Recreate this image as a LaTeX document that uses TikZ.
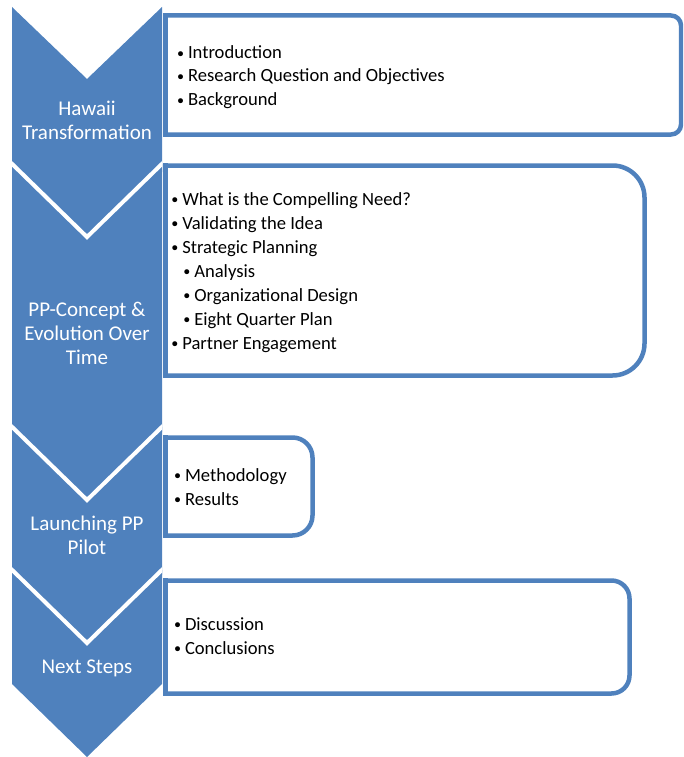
\documentclass[tikz,border=0pt]{standalone}
\usepackage{fontspec}
\setmainfont{Carlito}
\newfontfamily\bulfont{DejaVu Sans}
\definecolor{acc}{HTML}{4F81BD}
\begin{document}
\begin{tikzpicture}[x=1pt,y=-1pt,
  chev/.style={fill=acc},
  notch/.style={draw=white,line width=4pt},
  box/.style={draw=acc,line width=4.5pt},
  boxside/.style={draw=acc,line width=4.5pt,line cap=rect},
  lbl/.style={text=white,anchor=base,inner sep=0,font=\fontsize{21}{24}\selectfont},
  itm/.style={anchor=base west,inner sep=0,font=\fontsize{18.6}{24}\selectfont}]
\useasboundingbox (0,0) rectangle (683,757);
\clip (0,0) rectangle (683,757);
% boxes
\draw[box,rounded corners=10pt] (165.5,15.5) -- (681,15.5) -- (681,134.5) -- (165.5,134.5);
\draw[boxside] (165.5,15.5) -- (165.5,134.5);
\draw[box,rounded corners=32pt] (165.5,165.5) -- (644.5,165.5) -- (644.5,375.5) -- (165.5,375.5);
\draw[boxside] (165.5,165.5) -- (165.5,375.5);
\draw[box,rounded corners=20pt] (165.5,437.5) -- (312.5,437.5) -- (312.5,535.5) -- (165.5,535.5);
\draw[boxside] (165.5,437.5) -- (165.5,535.5);
\draw[box,rounded corners=18pt] (165.5,580.5) -- (629.5,580.5) -- (629.5,693.5) -- (165.5,693.5);
\draw[boxside] (165.5,580.5) -- (165.5,693.5);
% chevrons
\fill[chev] (12,7) -- (87,79) -- (162,7) -- (162,172) -- (87,245) -- (12,172) -- cycle;
\fill[chev] (12,164) -- (87,237) -- (162,164) -- (162,432) -- (87,505) -- (12,432) -- cycle;
\fill[chev] (12,427) -- (87,500) -- (162,427) -- (162,575) -- (87,648) -- (12,575) -- cycle;
\fill[chev] (12,570) -- (87,643) -- (162,570) -- (162,684) -- (87,757) -- (12,684) -- cycle;
\begin{scope}
\clip (12,0) rectangle (162,757);
\draw[notch] (5,157) -- (87,237) -- (169,157);
\draw[notch] (5,420) -- (87,500) -- (169,420);
\draw[notch] (5,563) -- (87,643) -- (169,563);
\end{scope}
% chevron labels
\node[lbl] (h1) at (87,116) {Hawaii};
\node[lbl] (h2) at (87,139.5) {Transformation};
\node[lbl] (p1) at (87,316.5) {PP-Concept \&};
\node[lbl] (p2) at (87,340.5) {Evolution Over};
\node[lbl] (p3) at (87,364.5) {Time};
\node[lbl] (l1) at (87,530.5) {Launching PP};
\node[lbl] (l2) at (87,554.5) {Pilot};
\node[lbl] (n1) at (87,673) {Next Steps};
% items
\newcommand{\bu}{\makebox[12.5pt][l]{\raisebox{-1.6pt}{\bulfont\fontsize{17}{24}\selectfont\symbol{"2022}}}}
\node[itm] (a1) at (175.3,58.5) {\bu Introduction};
\node[itm] (a2) at (175.3,82) {\bu Research Question and Objectives};
\node[itm] (a3) at (175.3,105.5) {\bu Background};
\node[itm] (b1) at (169.6,205) {\bu What is the Compelling Need?};
\node[itm] (b2) at (169.6,229) {\bu Validating the Idea};
\node[itm] (b3) at (169.6,253) {\bu Strategic Planning};
\node[itm] (b4) at (181.6,277) {\bu Analysis};
\node[itm] (b5) at (181.6,301) {\bu Organizational Design};
\node[itm] (b6) at (181.6,325) {\bu Eight Quarter Plan};
\node[itm] (b7) at (169.6,349) {\bu Partner Engagement};
\node[itm] (c1) at (172.3,481) {\bu Methodology};
\node[itm] (c2) at (172.3,505) {\bu Results};
\node[itm] (d1) at (172.3,630.3) {\bu Discussion};
\node[itm] (d2) at (172.3,654.3) {\bu Conclusions};
\end{tikzpicture}
\end{document}
